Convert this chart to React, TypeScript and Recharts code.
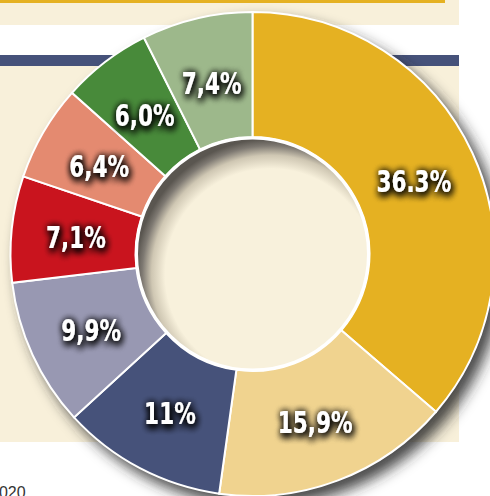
import React from 'react';
import { PieChart, Pie, Cell } from 'recharts';

const sliceNames = ['s1', 's2', 's3', 's4', 's5', 's6', 's7', 's8'];
const shares = [36.3, 15.9, 11, 9.9, 7.1, 6.4, 6.0, 7.4];
const sliceLabels = ['36.3%', '15,9%', '11%', '9,9%', '7,1%', '6,4%', '6,0%', '7,4%'];
const sliceColors = ['#E5B122', '#F0D38F', '#46527A', '#9898B2', '#C9141E', '#E48A70', '#488A3A', '#9DB88B'];

const data = sliceNames.map((n, i) => ({ name: n, value: shares[i], label: sliceLabels[i] }));
const single = [{ name: 'all', value: 1 }];

const RAD = Math.PI / 180;

const renderLabel = (props: any) => {
  const { cx, cy, midAngle, innerRadius, outerRadius, index } = props;
  const r = (innerRadius + outerRadius) / 2 - 2;
  const x = cx + r * Math.cos(-midAngle * RAD);
  const y = cy + r * Math.sin(-midAngle * RAD) + 2;
  return (
    <g transform={`translate(${x},${y}) scale(0.8,1)`}>
      <text
        x={0}
        y={0}
        textAnchor="middle"
        dominantBaseline="central"
        fill="#ffffff"
        filter="url(#textGlow)"
        style={{
          fontFamily: '"DejaVu Sans Condensed", "DejaVu Sans", sans-serif',
          fontWeight: 700,
          fontSize: 30,
          fontStretch: 'condensed',
        }}
      >
        {sliceLabels[index]}
      </text>
    </g>
  );
};

export default function App() {
  const cx = 252.5;
  const cy = 254;
  return (
    <div style={{ position: 'absolute', left: 0, top: 0, width: 490, height: 496, overflow: 'hidden', background: '#fff' }}>
      <svg width={1} height={1} style={{ position: 'absolute', left: 0, top: 0 }}>
        <defs>
          <filter id="pieShadow" x="-20%" y="-20%" width="140%" height="140%">
            <feGaussianBlur stdDeviation="7" />
          </filter>
          <filter id="textGlow" x="-40%" y="-60%" width="180%" height="220%">
            <feGaussianBlur in="SourceAlpha" stdDeviation="4.5" result="b" />
            <feOffset in="b" dx="1" dy="2" result="bo" />
            <feFlood floodColor="#000" floodOpacity="1" />
            <feComposite in2="bo" operator="in" result="s" />
            <feMerge>
              <feMergeNode in="s" />
              <feMergeNode in="s" />
              <feMergeNode in="s" />
              <feMergeNode in="SourceGraphic" />
            </feMerge>
          </filter>
        </defs>
      </svg>
      {/* background panels */}
      <div style={{ position: 'absolute', left: 0, top: 0, width: 459, height: 25, background: '#F8F0DA' }} />
      <div style={{ position: 'absolute', left: 0, top: 0, width: 445, height: 3, background: '#E5B122' }} />
      <div style={{ position: 'absolute', left: 0, top: 55, width: 459, height: 11, background: '#46527A' }} />
      <div style={{ position: 'absolute', left: 0, top: 66, width: 459, height: 376, background: '#F8F0DA' }} />
      <div
        style={{
          position: 'absolute',
          left: -10,
          top: 485,
          fontFamily: '"Liberation Sans", Arial, sans-serif',
          fontSize: 16,
          color: '#333',
          lineHeight: '16px',
        }}
      >
        2020
      </div>
      <div style={{ position: 'absolute', left: 0, top: 0 }}>
        <PieChart width={490} height={496} margin={{ top: 0, right: 0, bottom: 0, left: 0 }}>
          <Pie
            data={single}
            dataKey="value"
            cx={cx + 8}
            cy={cy + 9}
            outerRadius={243}
            innerRadius={0}
            startAngle={90}
            endAngle={-270}
            stroke="none"
            isAnimationActive={false}
          >
            <Cell fill="#2a2a2a" fillOpacity={0.85} filter="url(#pieShadow)" stroke="none" />
          </Pie>
          <Pie
            data={data}
            dataKey="value"
            nameKey="name"
            cx={cx}
            cy={cy}
            outerRadius={242}
            innerRadius={117}
            startAngle={90}
            endAngle={-270}
            stroke="#ffffff"
            strokeWidth={2}
            label={renderLabel}
            labelLine={false}
            isAnimationActive={false}
          >
            {data.map((d, i) => (
              <Cell key={d.name} fill={sliceColors[i]} stroke="#ffffff" strokeWidth={2} />
            ))}
          </Pie>
        </PieChart>
      </div>
      <svg width={490} height={496} style={{ position: 'absolute', left: 0, top: 0, pointerEvents: 'none' }}>
        <defs>
          <radialGradient id="holeGrad" cx={cx + 18} cy={cy + 20} r={135} gradientUnits="userSpaceOnUse">
            <stop offset="0%" stopColor="#F8F1DC" />
            <stop offset="78%" stopColor="#F8F1DC" />
            <stop offset="88%" stopColor="#CFC7B3" />
            <stop offset="95%" stopColor="#7E7972" />
            <stop offset="100%" stopColor="#5A5650" />
          </radialGradient>
        </defs>
        <circle cx={cx} cy={cy} r={116} fill="url(#holeGrad)" stroke="#ffffff" strokeWidth={3} />
      </svg>
    </div>
  );
}
